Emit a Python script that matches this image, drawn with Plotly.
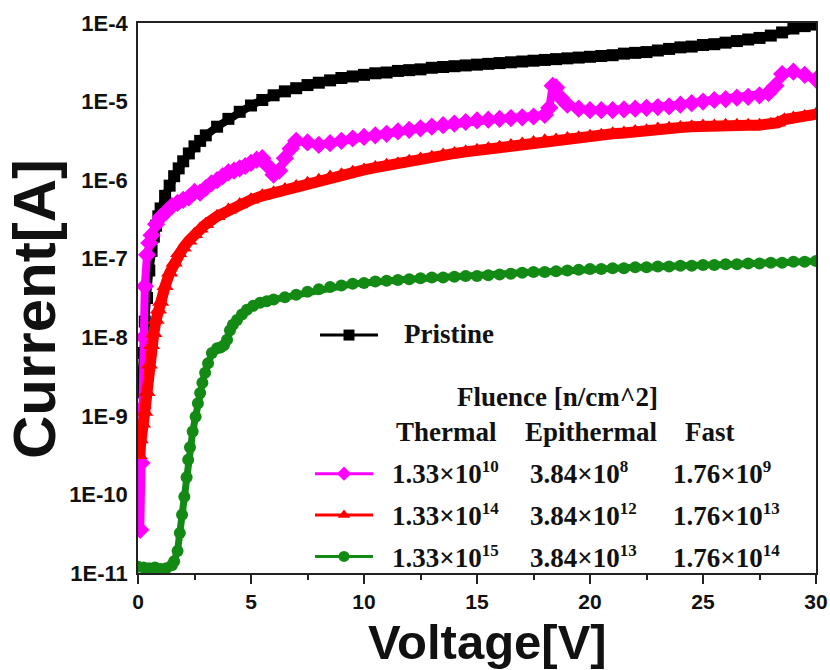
import numpy as np
import plotly.graph_objects as go

# ---------------- data (currents stored as log10(I/A)) ----------------
pristine_v = [0.1,0.2,0.3,0.4,0.5,0.6,0.7,0.8,0.9,1.0,1.2,1.4,1.6,1.8,2.0,2.25,2.5,2.75,3.0,3.5,4.0,4.5,5.0,5.5,6.0,6.5,7.0,7.5,8.0,8.5,9.0,9.5,10,10.5,11,11.5,12,12.5,13,13.5,14,14.5,15,15.5,16,16.5,17,17.5,18,18.5,19,19.5,20,20.5,21,21.5,22,22.5,23,23.5,24,24.5,25,25.5,26,26.5,27,27.5,28,28.5,29,29.5,30]
pristine_log = [-8.7,-8.2,-7.8,-7.5,-7.15,-6.9,-6.72,-6.58,-6.46,-6.36,-6.2,-6.07,-5.95,-5.85,-5.76,-5.66,-5.57,-5.5,-5.43,-5.32,-5.22,-5.13,-5.05,-4.98,-4.92,-4.87,-4.83,-4.79,-4.76,-4.73,-4.7,-4.68,-4.66,-4.64,-4.63,-4.61,-4.6,-4.59,-4.57,-4.56,-4.55,-4.54,-4.53,-4.52,-4.51,-4.5,-4.49,-4.48,-4.47,-4.46,-4.45,-4.44,-4.43,-4.42,-4.41,-4.39,-4.38,-4.37,-4.35,-4.33,-4.31,-4.3,-4.28,-4.27,-4.25,-4.23,-4.21,-4.19,-4.16,-4.12,-4.07,-4.04,-4.02]

low_v = [0.1,0.15,0.2,0.25,0.3,0.4,0.5,0.6,0.8,1.0,1.25,1.5,1.75,2.0,2.25,2.5,2.75,3.0,3.25,3.5,3.75,4.0,4.25,4.5,4.75,5.0,5.25,5.5,5.75,6.0,6.25,6.5,6.75,7.0,7.5,8.0,8.5,9.0,9.5,10,10.5,11,11.5,12,12.5,13,13.5,14,14.5,15,15.5,16,16.5,17,17.5,18,18.2,18.35,18.5,18.7,19,19.5,20,20.5,21,21.5,22,22.5,23,23.5,24,24.5,25,25.5,26,26.5,27,27.5,27.9,28.2,28.5,29,29.5,30]
low_log = [-10.45,-9.6,-8.9,-8.0,-7.35,-6.95,-6.8,-6.7,-6.56,-6.47,-6.4,-6.33,-6.29,-6.25,-6.22,-6.15,-6.16,-6.1,-6.04,-6.0,-5.95,-5.9,-5.88,-5.85,-5.82,-5.78,-5.74,-5.72,-5.82,-5.93,-5.88,-5.72,-5.6,-5.5,-5.52,-5.55,-5.53,-5.5,-5.47,-5.45,-5.43,-5.41,-5.38,-5.36,-5.34,-5.32,-5.3,-5.28,-5.26,-5.24,-5.23,-5.22,-5.21,-5.2,-5.19,-5.17,-5.08,-4.8,-4.82,-4.95,-5.04,-5.09,-5.11,-5.11,-5.11,-5.1,-5.09,-5.08,-5.07,-5.06,-5.04,-5.02,-5.0,-4.98,-4.97,-4.95,-4.94,-4.92,-4.89,-4.8,-4.65,-4.62,-4.66,-4.72]

mid_v = [0.05,0.1,0.2,0.3,0.4,0.5,0.6,0.7,0.8,0.9,1.0,1.2,1.4,1.6,1.8,2.0,2.25,2.5,2.75,3.0,3.5,4.0,4.5,5.0,5.5,6.0,6.5,7.0,7.5,8.0,8.5,9.0,9.5,10,10.5,11,11.5,12,12.5,13,13.5,14,14.5,15,15.5,16,16.5,17,17.5,18,18.5,19,19.5,20,20.5,21,21.5,22,22.5,23,23.5,24,24.5,25,25.5,26,26.5,27,27.5,28,28.3,28.6,29,29.5,30]
mid_log = [-9.5,-9.3,-9.1,-8.95,-8.7,-8.35,-8.1,-7.95,-7.78,-7.65,-7.55,-7.35,-7.18,-7.05,-6.93,-6.86,-6.77,-6.69,-6.62,-6.56,-6.46,-6.38,-6.31,-6.25,-6.2,-6.16,-6.12,-6.08,-6.04,-6.0,-5.96,-5.93,-5.9,-5.87,-5.84,-5.81,-5.79,-5.76,-5.73,-5.71,-5.68,-5.66,-5.64,-5.62,-5.6,-5.58,-5.56,-5.54,-5.52,-5.5,-5.49,-5.47,-5.46,-5.44,-5.43,-5.41,-5.4,-5.38,-5.37,-5.35,-5.34,-5.33,-5.32,-5.31,-5.31,-5.3,-5.3,-5.3,-5.3,-5.29,-5.27,-5.23,-5.21,-5.19,-5.16]

high_v = [0,0.25,0.5,0.75,1.0,1.25,1.5,1.6,1.75,1.85,1.95,2.05,2.15,2.22,2.3,2.42,2.55,2.65,2.75,2.85,2.97,3.1,3.27,3.5,3.65,3.8,3.94,4.07,4.2,4.38,4.6,4.82,5.1,5.4,5.7,6.0,6.5,7.0,7.5,8.0,8.5,9.0,9.5,10,10.5,11,11.5,12,12.5,13,13.5,14,14.5,15,15.5,16,16.5,17,17.5,18,18.5,19,19.5,20,20.5,21,21.5,22,22.5,23,23.5,24,24.5,25,25.5,26,26.5,27,27.5,28,28.5,29,29.5,30]
high_log = [-10.92,-10.93,-10.94,-10.93,-10.95,-10.94,-10.9,-10.85,-10.72,-10.49,-10.26,-10.03,-9.78,-9.56,-9.4,-9.2,-9.01,-8.84,-8.71,-8.58,-8.45,-8.33,-8.2,-8.14,-8.13,-8.1,-8.03,-7.91,-7.84,-7.78,-7.71,-7.65,-7.6,-7.56,-7.54,-7.52,-7.49,-7.46,-7.42,-7.39,-7.36,-7.34,-7.32,-7.31,-7.29,-7.28,-7.27,-7.26,-7.25,-7.24,-7.24,-7.23,-7.22,-7.22,-7.21,-7.2,-7.19,-7.18,-7.17,-7.17,-7.16,-7.15,-7.14,-7.13,-7.13,-7.12,-7.12,-7.11,-7.11,-7.1,-7.1,-7.09,-7.09,-7.08,-7.08,-7.07,-7.07,-7.06,-7.06,-7.05,-7.05,-7.04,-7.04,-7.03]

y_tickvals = [1e-11, 1e-10, 1e-9, 1e-8, 1e-7, 1e-6, 1e-5, 1e-4]
y_ticktext = ["1E-11", "1E-10", "1E-9", "1E-8", "1E-7", "1E-6", "1E-5", "1E-4"]
x_tickvals = [0, 5, 10, 15, 20, 25, 30]

series_names = ["Pristine", "Fluence 1", "Fluence 2", "Fluence 3"]
col_headers = ["Thermal", "Epithermal", "Fast"]
fluence_mant = [["1.33", "3.84", "1.76"], ["1.33", "3.84", "1.76"], ["1.33", "3.84", "1.76"]]
fluence_exp = [[10, 8, 9], [14, 12, 13], [15, 13, 14]]

# ---------------- figure ----------------
W, H = 830, 670
L, R, T, B = 138, 14, 23, 97
pw, ph = W - L - R, H - T - B

def px(x):
    return (x - L) / pw

def py(y):
    return (H - B - y) / ph

def sci(m, e):
    return f"{m}×10<sup><span style='font-size:17px'>{e}</span></sup>"

serif = "Liberation Serif, Times New Roman, serif"
sans = "Liberation Sans, Arial, sans-serif"

fig = go.Figure()
series = [
    (pristine_v, pristine_log, "#000000", "square", 12, 8, "legend"),
    (low_v, low_log, "#ff00ff", "diamond", 14, 8, "legend2"),
    (mid_v, mid_log, "#ff0000", "triangle-up", 15, 11, "legend2"),
    (high_v, high_log, "#138a13", "circle", 12, 7, "legend2"),
]
for (v, lg, col, sym, size, lw, leg), name in zip(series, series_names):
    fig.add_trace(go.Scatter(
        x=v, y=10 ** np.array(lg), mode="lines+markers", name=name,
        line=dict(color=col, width=lw),
        marker=dict(symbol=sym, size=size, color=col, line=dict(width=0)),
        showlegend=False,
    ))
# legend keys (thin line + marker, as in the reference key); their labels are drawn as annotations
for (v, lg, col, sym, size, lw, leg), name in zip(series, series_names):
    fig.add_trace(go.Scatter(
        x=[None], y=[None], mode="lines+markers", name="",
        line=dict(color=col, width=3),
        marker=dict(symbol=sym, size=11, color=col, line=dict(width=0)),
        legend=leg, showlegend=True, hoverinfo="skip",
    ))

lfont = dict(family=serif, size=27, color="#111", weight="bold")
fig.update_layout(
    width=W, height=H, margin=dict(l=L, r=R, t=T, b=B, autoexpand=False),
    plot_bgcolor="white", paper_bgcolor="white",
    xaxis=dict(
        range=[0, 30], tickvals=x_tickvals, ticks="outside", ticklen=9, tickwidth=1.5,
        tickcolor="#222", showline=True, linecolor="#222", linewidth=1.5, mirror=True,
        showgrid=False, zeroline=False,
        minor=dict(dtick=2.5, tick0=0, ticks="outside", ticklen=5, tickwidth=1.5, tickcolor="#222", showgrid=False),
        tickfont=dict(family=sans, size=21, color="#111", weight="bold"),
        automargin=False,
    ),
    yaxis=dict(
        type="log", range=[-11, -4], tickvals=y_tickvals, ticktext=y_ticktext, ticks="",
        showline=True, linecolor="#222", linewidth=1.5, mirror=True, showgrid=False, zeroline=False,
        ticklabelstandoff=4,
        tickfont=dict(family=sans, size=22, color="#111", weight="bold"),
        automargin=False,
    ),
    legend=dict(x=px(315), y=py(311), xanchor="left", yanchor="top", bgcolor="rgba(0,0,0,0)",
                font=dict(family=serif, size=27), itemwidth=58),
    legend2=dict(x=px(310), y=py(448), xanchor="left", yanchor="top", bgcolor="rgba(0,0,0,0)",
                 font=dict(family=serif, size=29.5), itemwidth=58),
)

ann = [
    dict(text="Current[A]", x=34, y=309, xanchor="center", yanchor="middle", textangle=-90,
         font=dict(family=sans, size=60, color="#111", weight="bold")),
    dict(text="Voltage[V]", x=488, y=642, xanchor="center", yanchor="middle",
         font=dict(family=sans, size=49, color="#111", weight="bold")),
    dict(text="Pristine", x=402, y=334, xanchor="left", yanchor="middle"),
    dict(text="Fluence [n/cm^2]", x=557, y=397, xanchor="center", yanchor="middle"),
    dict(text=col_headers[0], x=446, y=432, xanchor="center", yanchor="middle"),
    dict(text=col_headers[1], x=591, y=432, xanchor="center", yanchor="middle"),
    dict(text=col_headers[2], x=710, y=432, xanchor="center", yanchor="middle"),
]
row_y = [473, 515, 557]
col_x = [390, 528, 671]
for r in range(3):
    for c in range(3):
        ann.append(dict(text=sci(fluence_mant[r][c], fluence_exp[r][c]), x=col_x[c], y=row_y[r],
                        xanchor="left", yanchor="middle"))
for a in ann:
    a.setdefault("font", lfont)
    a.update(xref="paper", yref="paper", showarrow=False, x=px(a["x"]), y=py(a["y"]))
fig.update_layout(annotations=ann)

fig.write_html("out.html")
